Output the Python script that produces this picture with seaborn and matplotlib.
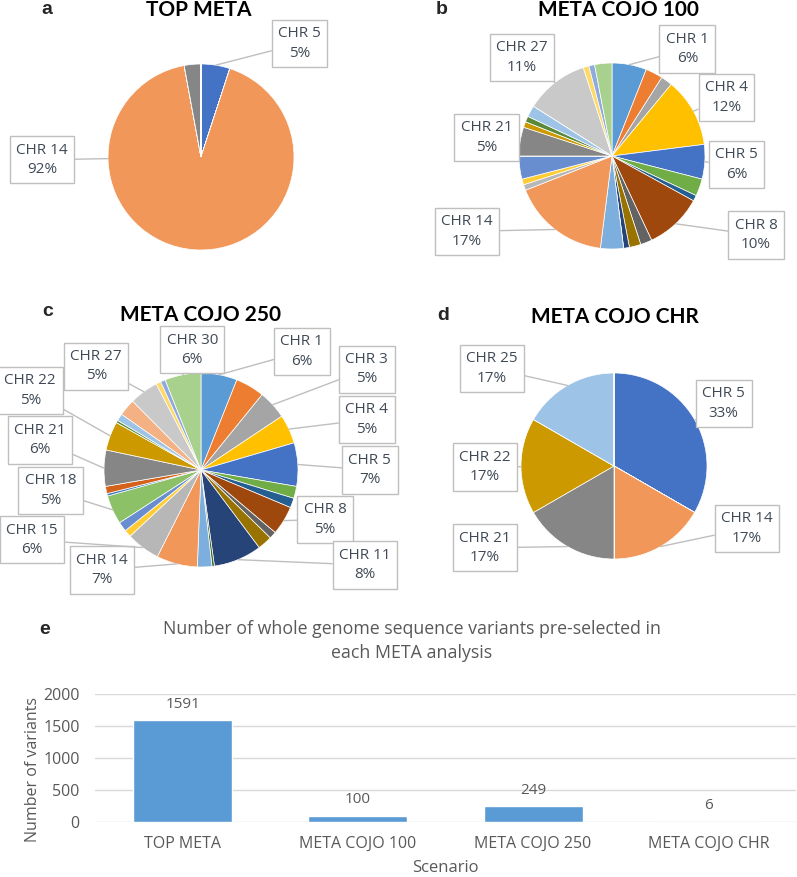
import numpy as np
import matplotlib
matplotlib.use("Agg")
import matplotlib.pyplot as plt
import seaborn as sns

# chromosome ids and variant counts per chromosome for each scenario
chromosomes = list(range(1, 31))
top_meta = [0, 0, 0, 0, 80, 0, 0, 0, 0, 0, 0, 0, 0, 1465, 0,
            0, 0, 0, 0, 0, 46, 0, 0, 0, 0, 0, 0, 0, 0, 0]
cojo_100 = [6, 3, 2, 12, 6, 3, 1, 10, 2, 2, 1, 0, 4, 17, 1,
            1, 4, 0, 0, 0, 5, 1, 0, 1, 2, 0, 11, 1, 1, 3]
cojo_250 = [15, 12, 12, 12, 18, 5, 4, 12, 3, 6, 20, 1, 6, 17, 14,
            3, 4, 12, 1, 3, 15, 12, 0, 1, 3, 7, 12, 2, 2, 15]
cojo_chr = [0, 0, 0, 0, 2, 0, 0, 0, 0, 0, 0, 0, 0, 1, 0,
            0, 0, 0, 0, 0, 1, 1, 0, 0, 1, 0, 0, 0, 0, 0]

# bar chart
scenarios = ["TOP META", "META COJO 100", "META COJO 250", "META COJO CHR"]
n_variants = [1591, 100, 249, 6]

# office-like palette, one colour per chromosome
chr_colors = ["#5B9BD5", "#ED7D31", "#A5A5A5", "#FFC000", "#4472C4", "#70AD47",
              "#255E91", "#9E480E", "#636363", "#997300", "#264478", "#43682B",
              "#7CAFDD", "#F1975A", "#B7B7B7", "#FFCD33", "#698ED0", "#8CC168",
              "#3B7CC2", "#D5621A", "#868686", "#CC9A00", "#3A65B5", "#5A8A39",
              "#9DC3E6", "#F4B183", "#C9C9C9", "#FFD966", "#8FAADC", "#A9D18E"]

# where the callout boxes sit (pie units, centre = 0,0, radius = 1)
pos_a = {5: (1.06, 1.22), 14: (-1.71, -0.03)}
pos_b = {1: (0.81, 1.15), 4: (1.23, 0.63), 5: (1.34, -0.09), 8: (1.55, -0.85),
         14: (-1.56, -0.81), 21: (-1.35, 0.20), 27: (-0.97, 1.06)}
pos_c = {30: (-0.09, 1.24), 1: (1.04, 1.22), 3: (1.71, 1.04), 4: (1.71, 0.52),
         5: (1.74, 0.0), 8: (1.28, -0.51), 11: (1.69, -0.98), 14: (-1.02, -1.03),
         15: (-1.74, -0.72), 18: (-1.55, -0.21), 21: (-1.66, 0.31),
         22: (-1.76, 0.82), 27: (-1.08, 1.07)}
pos_d = {25: (-1.31, 1.05), 5: (1.18, 0.67), 14: (1.43, -0.67),
         21: (-1.39, -0.88), 22: (-1.39, -0.01)}

sns.set_theme(style="white")
plt.rcParams["font.family"] = ["Open Sans", "DejaVu Sans"]

W, H = 797, 877
fig = plt.figure(figsize=(W / 100, H / 100), dpi=100)


def fx(x):
    return x / W


def fy(y):
    return 1 - y / H


def leader_angle(t1, t2, bx, by):
    # aim at the box when a big wedge faces it, otherwise at the wedge middle
    ab = np.rad2deg(np.arctan2(by, bx))
    m = 0.2 * (t2 - t1)
    if t2 - t1 > 60:
        for a in (ab - 360, ab, ab + 360):
            if t1 + m <= a <= t2 - m:
                return np.deg2rad(a)
    return np.deg2rad((t1 + t2) / 2)


def pie_panel(cx, cy, r, counts, boxes, span=2.0):
    ax = fig.add_axes([fx(cx - span * r), fy(cy + span * r),
                       2 * span * r / W, 2 * span * r / H])
    wedges, _ = ax.pie(counts, colors=chr_colors, startangle=90,
                       counterclock=False, radius=1,
                       wedgeprops=dict(linewidth=0.5, edgecolor="white"))
    total = sum(counts)
    for chrom, (bx, by) in boxes.items():
        w = wedges[chrom - 1]
        ang = leader_angle(w.theta1, w.theta2, bx, by)
        pct = counts[chrom - 1] / total * 100
        ax.annotate(f"CHR {chrom}\n{pct:.0f}%", xy=(np.cos(ang), np.sin(ang)),
                    xytext=(bx, by), ha="center", va="center",
                    fontsize=11, color="#404A56", linespacing=1.4,
                    bbox=dict(boxstyle="square,pad=0.42", fc="white",
                              ec="#BFBFBF", lw=1),
                    arrowprops=dict(arrowstyle="-", color="#BFBFBF", lw=1,
                                    shrinkA=0, shrinkB=0))
    ax.set_xlim(-span, span)
    ax.set_ylim(-span, span)
    ax.axis("off")
    return ax


pie_panel(201, 157, 93, top_meta, pos_a)
pie_panel(612, 156, 93, cojo_100, pos_b)
pie_panel(201, 470, 97, cojo_250, pos_c)
pie_panel(614, 466, 93, cojo_chr, pos_d)

# pie titles and panel letters
for x, y, t in [(199, 10, "TOP META"), (618, 10, "META COJO 100"),
                (200, 315, "META COJO 250"), (615, 317, "META COJO CHR")]:
    fig.text(fx(x), fy(y), t, ha="center", va="center", fontsize=15,
             fontweight="bold", color="black", family=["Lato", "DejaVu Sans"])
for x, y, t in [(47, 9, "a"), (442, 10, "b"), (48, 312, "c"),
                (443, 315, "d"), (45, 630, "e")]:
    fig.text(fx(x), fy(y), t, ha="center", va="center", fontsize=14,
             fontweight="bold", family=["Liberation Sans", "DejaVu Sans"])

# bar chart
axe = fig.add_axes([fx(95), fy(822), (796 - 95) / W, (822 - 694) / H])
sns.barplot(x=scenarios, y=n_variants, color="#5B9BD5", saturation=1,
            width=0.566, ax=axe)
axe.bar_label(axe.containers[0], padding=6, fontsize=11, color="#595959")
axe.set_ylim(0, 2000)
axe.set_yticks([0, 500, 1000, 1500, 2000])
axe.set_xlim(-0.5, 3.5)
axe.grid(axis="y", color="#D9D9D9", lw=1)
axe.set_axisbelow(True)
for s in axe.spines.values():
    s.set_visible(False)
axe.tick_params(axis="both", length=0, labelsize=11.5, colors="#595959")
axe.tick_params(axis="x", pad=10)
axe.tick_params(axis="y", pad=11)
axe.set_xlabel("Scenario", fontsize=12, color="#595959", labelpad=6)
axe.set_ylabel("Number of variants", fontsize=11.5, color="#595959")
axe.yaxis.set_label_coords(-0.077, 0.41)
fig.text(fx(412), fy(641), "Number of whole genome sequence variants pre-selected in\neach META analysis",
         ha="center", va="center", fontsize=12.8, color="#595959", linespacing=1.45)

fig.savefig("out.png", dpi=100)
